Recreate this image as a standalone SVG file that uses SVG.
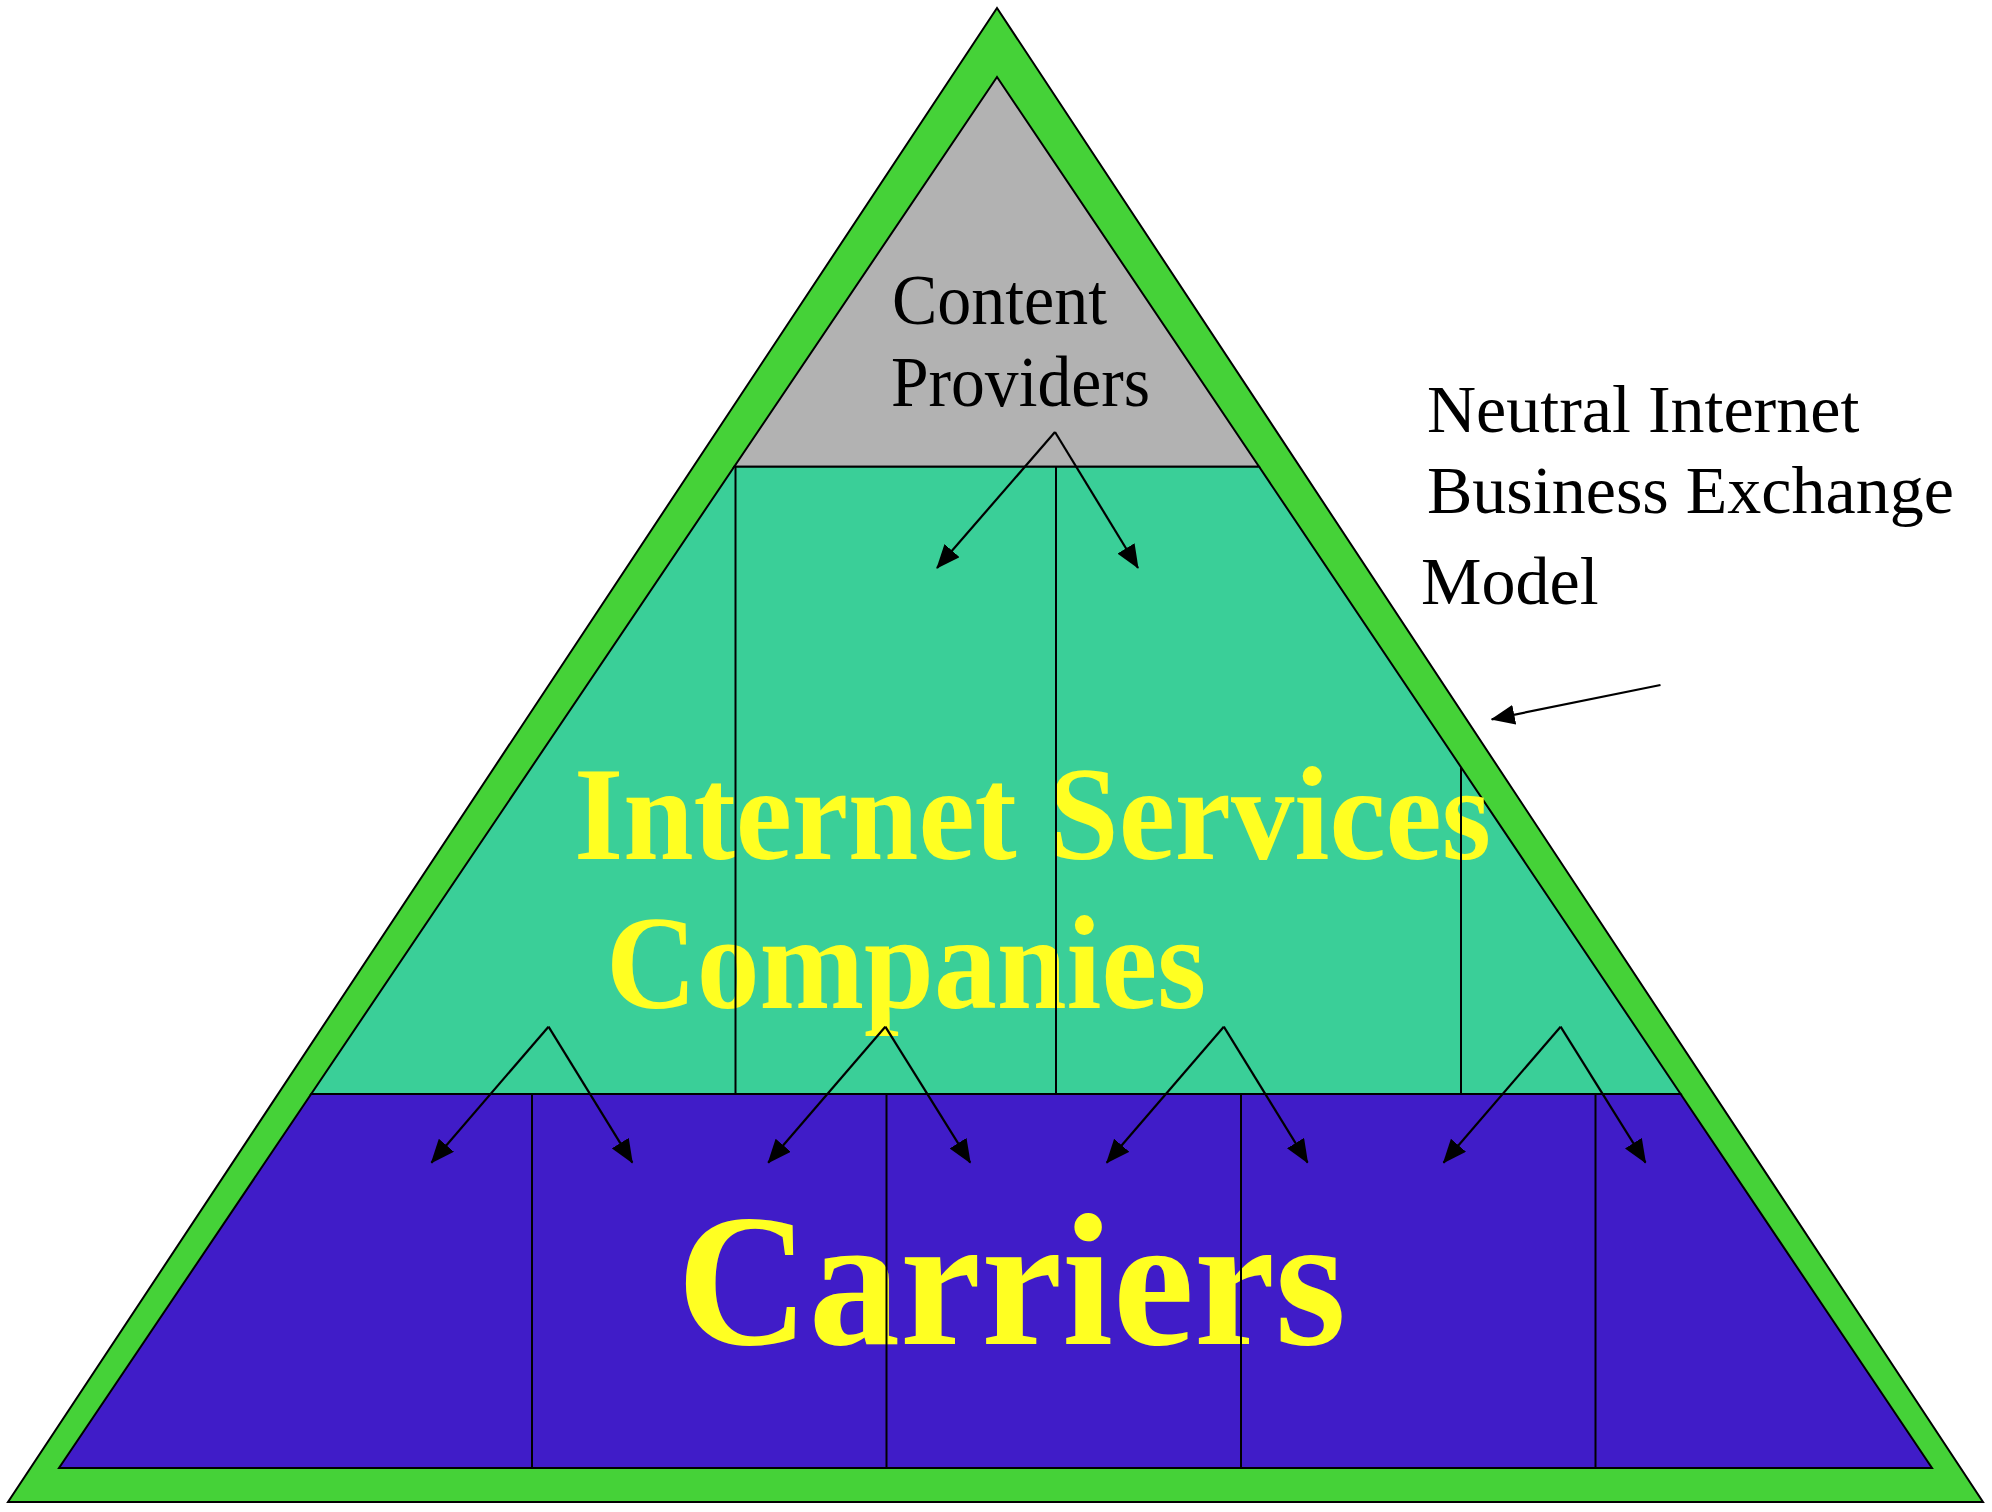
<svg xmlns="http://www.w3.org/2000/svg" width="1992" height="1512" viewBox="0 0 1992 1512">
<defs>
<style>
.edge{stroke:#000;stroke-width:2;stroke-linejoin:miter}
.div{stroke:#000;stroke-width:2;fill:none}
.conn{stroke:#000;stroke-width:2.2;fill:none}
.lbl{font-family:"Liberation Serif","Times New Roman",serif;fill:#000;font-size:72px}
.side{font-family:"Liberation Serif","Times New Roman",serif;fill:#000;font-size:68px}
.big{font-family:"Liberation Serif","Times New Roman",serif;font-weight:bold;fill:#FFFF22}
</style>
<marker id="ah" viewBox="0 0 24 20" refX="23" refY="10" markerWidth="24" markerHeight="20" markerUnits="userSpaceOnUse" orient="auto">
<path d="M0,0 L24,10 L0,20 Z" fill="#000"/>
</marker>
</defs>
<rect width="1992" height="1512" fill="#fff"/>
<g id="frame">
<polygon class="edge" points="997,8 8,1502 1983,1502" fill="#45D238"/>
</g>
<g id="content-providers">
<polygon class="edge" points="997,77 734.2,466.7 1259.1,466.7" fill="#B2B2B2"/>
<text class="lbl" x="892" y="324" textLength="215" lengthAdjust="spacingAndGlyphs">Content</text>
<text class="lbl" x="891" y="406" textLength="259" lengthAdjust="spacingAndGlyphs">Providers</text>
</g>
<g id="isp">
<polygon class="edge" points="734.2,466.7 1259.1,466.7 1680.6,1094 311.2,1094" fill="#3ACF98"/>
<text class="big" x="574" y="859" font-size="134" textLength="917" lengthAdjust="spacingAndGlyphs">Internet Services</text>
<text class="big" x="606" y="1008" font-size="134" textLength="600" lengthAdjust="spacingAndGlyphs">Companies</text>
</g>
<g id="carriers">
<polygon class="edge" points="311.2,1094 1680.6,1094 1932,1468 59,1468" fill="#401CC8"/>
<text class="big" x="677" y="1344" font-size="189" textLength="669" lengthAdjust="spacingAndGlyphs">Carriers</text>
</g>
<g id="dividers">
<line class="div" x1="735.5" y1="466.7" x2="735.5" y2="1094"/>
<line class="div" x1="1056" y1="466.7" x2="1056" y2="1094"/>
<line class="div" x1="1461" y1="767.3" x2="1461" y2="1094"/>
<line class="div" x1="532" y1="1094" x2="532" y2="1468"/>
<line class="div" x1="886.5" y1="1094" x2="886.5" y2="1468"/>
<line class="div" x1="1241" y1="1094" x2="1241" y2="1468"/>
<line class="div" x1="1595.5" y1="1094" x2="1595.5" y2="1468"/>
</g>
<g id="model-label">
<text class="side" x="1427" y="432">Neutral Internet</text>
<text class="side" x="1427" y="513">Business Exchange</text>
<text class="side" x="1421" y="604">Model</text>
</g>
<g id="connectors">
<line class="conn" x1="1055" y1="432" x2="937" y2="568" marker-end="url(#ah)"/>
<line class="conn" x1="1055" y1="432" x2="1138" y2="568" marker-end="url(#ah)"/>
<line class="conn" x1="548.5" y1="1026.7" x2="431.4" y2="1162.7" marker-end="url(#ah)"/>
<line class="conn" x1="548.5" y1="1026.7" x2="632.3" y2="1162.7" marker-end="url(#ah)"/>
<line class="conn" x1="885.3" y1="1026.7" x2="768.2" y2="1162.7" marker-end="url(#ah)"/>
<line class="conn" x1="885.3" y1="1026.7" x2="970.2" y2="1162.7" marker-end="url(#ah)"/>
<line class="conn" x1="1223.8" y1="1026.7" x2="1106.7" y2="1162.7" marker-end="url(#ah)"/>
<line class="conn" x1="1223.8" y1="1026.7" x2="1307.6" y2="1162.7" marker-end="url(#ah)"/>
<line class="conn" x1="1560.6" y1="1026.7" x2="1443.5" y2="1162.7" marker-end="url(#ah)"/>
<line class="conn" x1="1560.6" y1="1026.7" x2="1645.5" y2="1162.7" marker-end="url(#ah)"/>
<line class="conn" x1="1660.5" y1="685" x2="1491.7" y2="719.3" marker-end="url(#ah)"/>
</g>
</svg>
